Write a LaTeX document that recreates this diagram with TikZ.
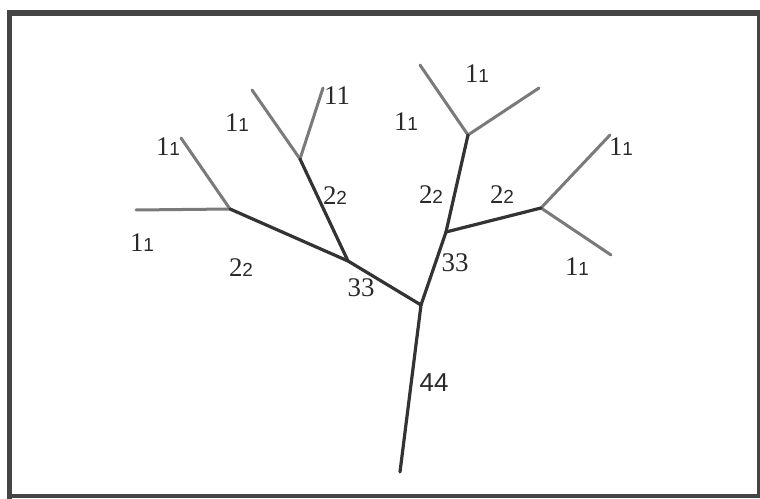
\documentclass[tikz,border=0pt]{standalone}
\usepackage{fontspec}
\setmainfont{Liberation Serif}
\newfontfamily\arialf{Liberation Sans}
\newcommand\lab[2]{{\fontsize{27}{27}\selectfont #1}{\arialf\fontsize{19}{19}\selectfont #2}}
\definecolor{darkline}{HTML}{333333}
\definecolor{lightline}{HTML}{7A7A7A}
\definecolor{framecol}{HTML}{454545}
\definecolor{txtcol}{HTML}{2A2A2A}
\begin{document}
\begin{tikzpicture}[x=1bp,y=-1bp,
  major/.style={draw=darkline,line width=3.2bp,line cap=round},
  minor/.style={draw=lightline,line width=3bp,line cap=round},
  lbl/.style={inner sep=0pt,anchor=center,text=txtcol},
  frameline/.style={fill=framecol,draw=none}]
\useasboundingbox (0,0) rectangle (760,499);
\fill[white] (0,0) rectangle (760,499);
% frame
\fill[frameline] (7,10) rectangle (760,16);
\fill[frameline] (7,10) rectangle (12,499);
\fill[frameline] (7,494) rectangle (760,498);
\fill[frameline] (757,10) rectangle (760,498);
% tree points
\coordinate (root) at (400,472);
\coordinate (J) at (421,305);
\coordinate (A) at (348,261);
\coordinate (B) at (230,209);
\coordinate (C) at (300,159);
\coordinate (D) at (446,232);
\coordinate (E) at (468,135);
\coordinate (F) at (541,208);
\coordinate (b1) at (136,210);
\coordinate (b2) at (181,138);
\coordinate (c1) at (252,90);
\coordinate (c2) at (323,88);
\coordinate (e1) at (420,65);
\coordinate (e2) at (539,88);
\coordinate (f1) at (610,135);
\coordinate (f2) at (611,255);
% first order streams
\draw[minor] (B) -- (b1);
\draw[minor] (B) -- (b2);
\draw[minor] (C) -- (c1);
\draw[minor] (C) -- (c2);
\draw[minor] (E) -- (e1);
\draw[minor] (E) -- (e2);
\draw[minor] (F) -- (f1);
\draw[minor] (F) -- (f2);
% higher order streams
\draw[major] (A) -- (B);
\draw[major] (A) -- (C);
\draw[major] (D) -- (E);
\draw[major] (D) -- (F);
\draw[major] (J) -- (A);
\draw[major] (J) -- (D);
\draw[major] (root) -- (J);
% labels
\node[lbl] (l1) at (168,147) {\lab{1}{1}};
\node[lbl] (l2) at (142,243) {\lab{1}{1}};
\node[lbl] (l3) at (241,268) {\lab{2}{2}};
\node[lbl] (l4) at (237,123) {\lab{1}{1}};
\node[lbl] (l5) at (337,96) {{\fontsize{27}{27}\selectfont 11}};
\node[lbl] (l6) at (335,196) {\lab{2}{2}};
\node[lbl] (l7) at (361,288) {{\fontsize{27}{27}\selectfont 33}};
\node[lbl] (l8) at (406,122) {\lab{1}{1}};
\node[lbl] (l9) at (477,74) {\lab{1}{1}};
\node[lbl] (l10) at (431,195) {\lab{2}{2}};
\node[lbl] (l11) at (502,195) {\lab{2}{2}};
\node[lbl] (l12) at (621,147) {\lab{1}{1}};
\node[lbl] (l13) at (577,267) {\lab{1}{1}};
\node[lbl] (l14) at (455,263) {{\fontsize{27}{27}\selectfont 33}};
\node[lbl] (l15) at (434,383) {{\arialf\fontsize{26}{26}\selectfont 44}};
\end{tikzpicture}
\end{document}
